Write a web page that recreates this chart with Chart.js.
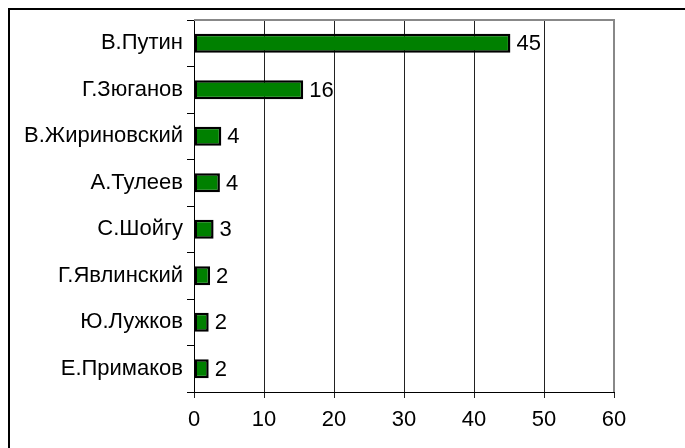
<!DOCTYPE html>
<html>
<head>
<meta charset="utf-8">
<script src="https://cdn.jsdelivr.net/npm/chart.js@4"></script>
<style>
  body { margin: 0; background: #fff; overflow: hidden; }
  #frame { position: absolute; left: 8px; top: 8px; width: 720px; height: 480px; border: 2px solid #000; }
  #wrap { position: absolute; left: 0; top: 0; width: 685px; height: 448px; }
</style>
</head>
<body>
<div id="frame"></div>
<div id="wrap"><canvas id="chart" width="685" height="448"></canvas></div>
<script>
const names = ['В.Путин', 'Г.Зюганов', 'В.Жириновский', 'А.Тулеев', 'С.Шойгу', 'Г.Явлинский', 'Ю.Лужков', 'Е.Примаков'];
const shares = [45.2, 15.6, 3.9, 3.7, 2.8, 2.3, 2.1, 2.1];
const xTicks = [0, 10, 20, 30, 40, 50, 60];

const FONT = '"Liberation Sans", Arial, sans-serif';

// grey frame round the plot area
const plotFrame = {
  id: 'plotFrame',
  afterDraw(chart) {
    const a = chart.chartArea, ctx = chart.ctx;
    ctx.save();
    ctx.strokeStyle = '#888';
    ctx.lineWidth = 2;
    ctx.beginPath();
    ctx.moveTo(a.left, a.top);
    ctx.lineTo(a.right, a.top);
    ctx.lineTo(a.right, a.bottom);
    ctx.stroke();
    ctx.restore();
  }
};

// numbers at bar ends
const barLabels = {
  id: 'barLabels',
  afterDatasetsDraw(chart) {
    const ctx = chart.ctx;
    const meta = chart.getDatasetMeta(0);
    ctx.save();
    ctx.font = '22px ' + FONT;
    ctx.fillStyle = '#000';
    ctx.textAlign = 'left';
    ctx.textBaseline = 'middle';
    meta.data.forEach((bar, i) => {
      ctx.fillText(String(Math.round(shares[i])), bar.x + 6, bar.y + 1);
    });
    ctx.restore();
  }
};

new Chart(document.getElementById('chart'), {
  type: 'bar',
  data: {
    labels: names,
    datasets: [{
      data: shares,
      backgroundColor: '#008000',
      borderColor: '#000',
      borderWidth: 2.5,
      borderSkipped: false,
      barPercentage: 0.41,
      categoryPercentage: 1
    }]
  },
  options: {
    indexAxis: 'y',
    responsive: false,
    animation: false,
    layout: { padding: { top: 20, right: 71, left: 0, bottom: 0 } },
    plugins: { legend: { display: false }, tooltip: { enabled: false } },
    scales: {
      x: {
        min: 0,
        max: 60,
        afterBuildTicks(scale) { scale.ticks = xTicks.map(v => ({ value: v })); },
        afterFit(scale) { scale.height = 56; },
        grid: { color: '#222', lineWidth: 1, tickLength: 6 },
        border: { color: '#000', width: 1 },
        ticks: { color: '#000', padding: 9, maxRotation: 0, font: { family: FONT, size: 22 } }
      },
      y: {
        afterFit(scale) { scale.width = 194; },
        grid: { display: true, drawOnChartArea: false, offset: true, color: '#000', tickLength: 7 },
        border: { color: '#000', width: 1 },
        ticks: { color: '#000', padding: 4, font: { family: FONT, size: 22 } }
      }
    }
  },
  plugins: [plotFrame, barLabels]
});
</script>
</body>
</html>
